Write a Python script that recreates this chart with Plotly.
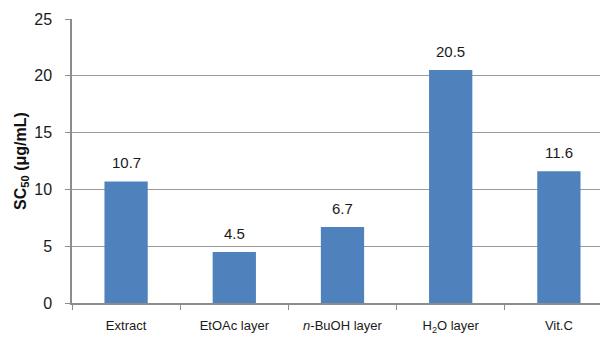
import plotly.graph_objects as go

categories = ["Extract", "EtOAc layer", "<i>n</i>-BuOH layer", "H<sub>2</sub>O layer", "Vit.C"]
values = [10.7, 4.5, 6.7, 20.5, 11.6]
labels = ["10.7", "4.5", "6.7", "20.5", "11.6"]
y_ticks = [0, 5, 10, 15, 20, 25]

FONT = "Liberation Sans"
fig = go.Figure()
fig.add_trace(go.Bar(
    x=categories, y=values, width=0.4,
    marker=dict(color="#4F81BD", line=dict(width=0)),
    hoverinfo="skip",
))
for c, v, t in zip(categories, values, labels):
    fig.add_annotation(x=c, y=v, text=t, showarrow=False, yanchor="bottom",
                       yshift=8, font=dict(family=FONT, size=15, color="#1a1a1a"))

fig.update_layout(
    width=602, height=338,
    margin=dict(l=72, r=2, t=19, b=35, autoexpand=False),
    paper_bgcolor="white", plot_bgcolor="white",
    showlegend=False, bargap=0.6,
    font=dict(family=FONT, color="#1a1a1a"),
)
fig.update_xaxes(
    range=[-0.5, 4.38], showgrid=False, automargin=False,
    showline=True, linecolor="#8c8c8c", linewidth=1.5,
    ticks="outside", tickson="boundaries", ticklen=5, tickcolor="#8c8c8c",
    ticklabelstandoff=10,
    tickfont=dict(family=FONT, size=13, color="#1a1a1a"),
)
fig.update_yaxes(
    range=[0, 25], tickvals=y_ticks, automargin=False,
    showgrid=True, gridcolor="#9a9a9a", gridwidth=1.2,
    showline=True, linecolor="#8c8c8c", linewidth=1.5,
    ticks="outside", ticklen=5, tickcolor="#8c8c8c", ticklabelstandoff=10,
    tickfont=dict(family=FONT, size=16, color="#1a1a1a"),
    zeroline=False,
    title=dict(text="<b>SC<sub>50</sub> (μg/mL)</b>", font=dict(family=FONT, size=16, color="#111"), standoff=4),
)
fig.write_html("out.html", config={"displayModeBar": False},
               post_script="document.body.style.margin='0';document.body.style.overflow='hidden';")
